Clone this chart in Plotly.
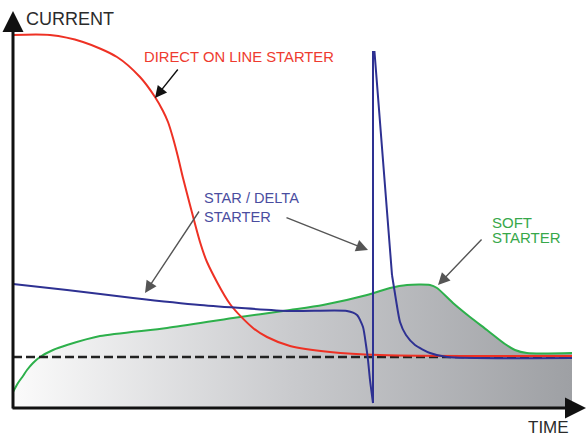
import plotly.graph_objects as go

# Time / current in arbitrary units
dol_time = [0, 37, 70, 104, 127, 142, 150, 155, 160, 165, 170, 177, 187, 194, 217, 240, 254, 277, 317, 367, 559]
dol_current = [373, 373, 366, 351, 331, 311, 297, 286, 270, 251, 230, 203, 166, 146, 104, 80, 71, 62, 56, 53, 52]

sd_time_pre = [0, 54, 120, 187, 277, 334, 344, 350, 353, 355, 357, 360]
sd_current_pre = [124, 118, 110, 103, 97, 97, 93, 81, 63, 48, 28, 5]
sd_time_spike = [360, 360, 361.5, 379]
sd_current_spike = [5, 356, 356, 133]
sd_time_post = [379, 383, 387, 393, 402, 417, 434, 559]
sd_current_post = [133, 108, 86, 73, 63, 55, 51, 50]

soft_time = [0, 5, 10, 14, 20, 27, 40, 54, 87, 154, 220, 277, 310, 354, 377, 394, 417, 424, 440, 457, 474, 492, 502, 514, 559]
soft_current = [16, 25, 32, 38, 45, 51, 58, 63, 72, 80, 90, 98, 103, 113, 120, 123, 123, 120, 105, 91, 78, 64, 58, 55, 55]

rated_time = [0, 559]
rated_current = [51, 51]

RED = "#ee3124"
BLUE = "#2e3192"
GREEN = "#2db04b"
FONT = "Liberation Sans, Arial, sans-serif"

fig = go.Figure()

fig.add_trace(go.Scatter(
    x=soft_time, y=soft_current, mode="lines",
    line=dict(color=GREEN, width=2, shape="spline", smoothing=0.7),
    fill="tozeroy",
    fillgradient=dict(type="horizontal",
                      colorscale=[[0, "#fbfbfb"], [0.5, "#c9cacd"], [1, "#9ea0a4"]]),
    hoverinfo="skip"))

fig.add_trace(go.Scatter(
    x=rated_time, y=rated_current, mode="lines",
    line=dict(color="#222222", width=2.5, dash="9px,4px"), hoverinfo="skip"))

fig.add_trace(go.Scatter(
    x=dol_time, y=dol_current, mode="lines",
    line=dict(color=RED, width=2, shape="spline", smoothing=0.8), hoverinfo="skip"))

fig.add_trace(go.Scatter(
    x=sd_time_pre, y=sd_current_pre, mode="lines",
    line=dict(color=BLUE, width=2, shape="spline", smoothing=0.6), hoverinfo="skip"))
fig.add_trace(go.Scatter(
    x=sd_time_spike, y=sd_current_spike, mode="lines",
    line=dict(color=BLUE, width=2), hoverinfo="skip"))
fig.add_trace(go.Scatter(
    x=sd_time_post, y=sd_current_post, mode="lines",
    line=dict(color=BLUE, width=2, shape="spline", smoothing=0.6), hoverinfo="skip"))

annotations = []
# axes as arrows
annotations.append(dict(x=0, y=397, ax=0, ay=-2, xref="x", yref="y", axref="x", ayref="y",
                        text="", showarrow=True, arrowhead=2, arrowsize=1.4, arrowwidth=3,
                        arrowcolor="#111111"))
annotations.append(dict(x=573, y=0, ax=-2, ay=0, xref="x", yref="y", axref="x", ayref="y",
                        text="", showarrow=True, arrowhead=2, arrowsize=1.4, arrowwidth=3,
                        arrowcolor="#111111"))
# pointer arrows
for (tx, ty, sx, sy, col) in [(142, 310, 166, 340, "#111111"),
                               (132, 115, 187, 198, "#555555"),
                               (355, 158, 272, 191, "#555555"),
                               (425, 123, 470, 170, "#555555")]:
    annotations.append(dict(x=tx, y=ty, ax=sx, ay=sy, xref="x", yref="y", axref="x", ayref="y",
                            text="", showarrow=True, arrowhead=2, arrowsize=1.7, arrowwidth=1.4,
                            arrowcolor=col))

def label(text, x, y, color, size):
    return dict(x=x, y=y, xref="x", yref="y", text=text, showarrow=False,
                xanchor="left", yanchor="middle",
                font=dict(family=FONT, size=size, color=color))

annotations += [
    label("CURRENT", 11, 389, "#2b2b2b", 18),
    label("DIRECT ON LINE STARTER", 129, 351, "#ee3b2f", 14.8),
    label("STAR / DELTA", 189, 210, "#4a4d9f", 14.6),
    label("STARTER", 189, 191, "#4a4d9f", 14.6),
    label("SOFT", 477, 186, "#37a84a", 15),
    label("STARTER", 477, 171, "#37a84a", 15),
    label("TIME", 513, -19, "#2b2b2b", 17),
]

fig.update_layout(
    width=588, height=438,
    margin=dict(l=0, r=0, t=0, b=0),
    paper_bgcolor="white", plot_bgcolor="white",
    showlegend=False,
    xaxis=dict(range=[-13, 575], visible=False, fixedrange=True),
    yaxis=dict(range=[-30, 408], visible=False, fixedrange=True),
    annotations=annotations,
)

fig.write_html("out.html", config={"displayModeBar": False},
               post_script="document.body.style.margin='0px';")
